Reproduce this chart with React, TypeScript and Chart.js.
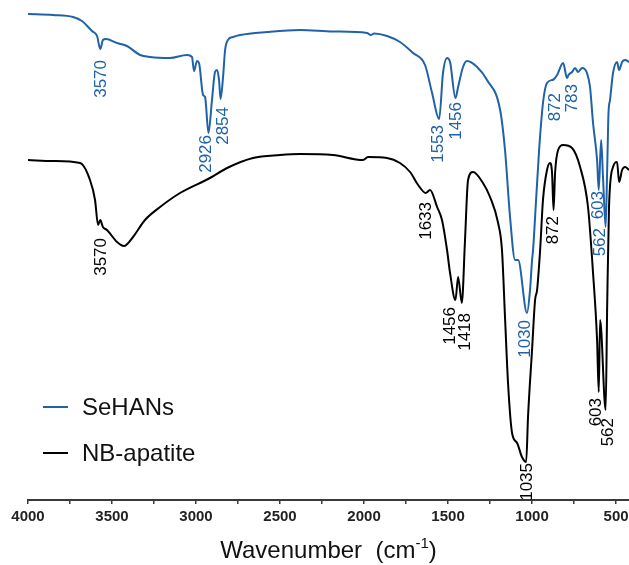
import React, { useEffect, useRef } from "react";
import { Chart, registerables } from "chart.js";
Chart.register(...registerables);

// ---------- data ----------
const SERIES_NAMES = ["SeHANs", "NB-apatite"];
const SERIES_COLORS = ["#1f62a8", "#000000"];

const SEHANS_WAVENUMBER = [
  4000, 3851, 3732, 3679, 3619, 3589, 3570, 3554, 3536, 3470, 3411, 3333, 3274, 3155, 3054, 3024, 3012, 2994, 2982,
  2958, 2946, 2926, 2905, 2887, 2875, 2863, 2854, 2839, 2827, 2810, 2780, 2738, 2577, 2381, 2185, 1982, 1960, 1940,
  1863, 1786, 1708, 1637, 1595, 1553, 1530, 1506, 1488, 1456, 1440, 1411, 1387, 1327, 1268, 1190, 1161, 1131, 1101,
  1083, 1030, 1012, 1000, 994, 976, 958, 935, 911, 872, 851, 815, 792, 783, 762, 744, 726, 702, 673, 655, 637, 613,
  603, 589, 577, 562, 553, 545, 536, 518, 494, 482, 464, 446, 423,
];
const SEHANS_VALUE = [
  97.2, 97.0, 96.6, 95.8, 93.8, 92.8, 90.2, 92.0, 92.2, 91.4, 90.8, 89.0, 88.6, 88.4, 89.0, 88.6, 85.8, 87.8, 87.4,
  81.0, 80.6, 73.4, 80.0, 85.6, 86.0, 84.0, 80.2, 84.6, 90.0, 92.0, 92.6, 93.0, 93.6, 94.0, 93.7, 93.4, 93.0, 93.3,
  92.8, 91.6, 89.4, 87.0, 81.4, 76.2, 85.4, 88.4, 87.6, 80.4, 82.6, 86.6, 87.8, 86.6, 84.0, 78.0, 70.0, 56.6, 48.0,
  48.0, 37.4, 42.0, 48.0, 50.0, 60.0, 70.0, 79.4, 83.4, 84.1, 85.0, 87.4, 84.4, 85.0, 85.6, 86.4, 85.6, 86.4, 85.4,
  82.6, 75.4, 68.0, 62.0, 72.0, 64.0, 54.6, 66.0, 77.4, 80.0, 85.4, 87.6, 86.0, 87.6, 88.0, 87.6,
];

const NB_WAVENUMBER = [
  4000, 3851, 3690, 3631, 3601, 3583, 3570, 3554, 3530, 3470, 3429, 3375, 3304, 3214, 3095, 2917, 2815, 2661, 2500,
  2381, 2185, 2006, 1976, 1863, 1786, 1726, 1678, 1633, 1607, 1565, 1536, 1506, 1488, 1456, 1440, 1418, 1399, 1381,
  1351, 1292, 1250, 1202, 1179, 1161, 1143, 1119, 1089, 1060, 1035, 1024, 1000, 982, 970, 952, 935, 911, 893, 881,
  872, 863, 845, 815, 762, 714, 667, 637, 613, 603, 595, 562, 553, 542, 518, 494, 482, 464, 446, 423,
];
const NB_VALUE = [
  68.0, 67.8, 67.4, 64.0, 60.0, 55.0, 56.0, 54.6, 54.0, 51.6, 50.8, 52.6, 56.0, 58.6, 61.4, 64.4, 66.4, 68.4, 69.0,
  69.2, 69.0, 68.0, 68.6, 68.4, 67.4, 65.6, 63.0, 61.4, 62.0, 58.6, 56.0, 50.0, 45.4, 40.0, 44.6, 39.4, 52.0, 64.0,
  65.6, 63.4, 60.6, 55.4, 50.0, 36.6, 23.4, 13.4, 11.4, 8.6, 7.6, 16.6, 30.0, 40.0, 42.0, 50.0, 60.0, 66.0, 67.4, 65.4,
  58.0, 65.4, 70.0, 71.0, 70.4, 66.6, 58.6, 45.4, 32.0, 21.6, 36.0, 18.0, 38.6, 58.6, 66.6, 67.6, 63.6, 66.0, 66.6, 66.0,
];

const SEHANS_PEAKS = [3570, 2926, 2854, 1553, 1456, 872, 783, 603, 562, 1030];
const NB_PEAKS = [3570, 1633, 1456, 1418, 1035, 872, 603, 562];

const X_TICKS = [4000, 3750, 3500, 3250, 3000, 2750, 2500, 2250, 2000, 1750, 1500, 1250, 1000, 750, 500];
const X_TITLE = "Wavenumber";
const X_UNIT = "cm";
const X_UNIT_EXP = "-1";

// ---------- layout (pixel offsets of peak labels from the curve) ----------
const SEHANS_LABEL_OFFSETS = [
  [1, 11], [-2, 2], [2.5, 8], [-1, 6], [0.5, 4], [1.5, 13.5], [3.5, 9], [0, 1], [-5.5, 1], [-1.5, 7],
];
const NB_LABEL_OFFSETS = [[1, 18], [1, 9], [-5, 7], [3, 10], [1, 1], [-0.5, 6], [-2, 6], [2.5, 8]];

const FONT = "'Liberation Sans', Arial, Helvetica, sans-serif";

function valueAt(ws: number[], vs: number[], w: number): number {
  for (let i = 0; i < ws.length - 1; i++) {
    if (ws[i] >= w && w >= ws[i + 1]) {
      const t = ws[i] === ws[i + 1] ? 0 : (ws[i] - w) / (ws[i] - ws[i + 1]);
      return vs[i] + (vs[i + 1] - vs[i]) * t;
    }
  }
  return vs[vs.length - 1];
}

const overlayPlugin = {
  id: "overlay",
  afterDraw(chart: any) {
    const ctx = chart.ctx as CanvasRenderingContext2D;
    const xs = chart.scales.x;
    const ys = chart.scales.y;
    const area = chart.chartArea;

    // peak labels
    const groups = [
      { ws: SEHANS_WAVENUMBER, vs: SEHANS_VALUE, peaks: SEHANS_PEAKS, offs: SEHANS_LABEL_OFFSETS, color: SERIES_COLORS[0] },
      { ws: NB_WAVENUMBER, vs: NB_VALUE, peaks: NB_PEAKS, offs: NB_LABEL_OFFSETS, color: SERIES_COLORS[1] },
    ];
    ctx.save();
    ctx.font = `17px ${FONT}`;
    ctx.textBaseline = "middle";
    ctx.textAlign = "right";
    for (const g of groups) {
      ctx.fillStyle = g.color;
      g.peaks.forEach((p, i) => {
        const [dx, dy] = g.offs[i];
        const x = xs.getPixelForValue(p) + dx;
        const y = ys.getPixelForValue(valueAt(g.ws, g.vs, p)) + dy;
        ctx.save();
        ctx.translate(x, y);
        ctx.rotate(-Math.PI / 2);
        ctx.fillText(String(p), 0, 0);
        ctx.restore();
      });
    }
    ctx.restore();

    // legend
    ctx.save();
    ctx.font = `24px ${FONT}`;
    ctx.textBaseline = "middle";
    ctx.textAlign = "left";
    chart.data.datasets.forEach((ds: any, i: number) => {
      const y = 407 + i * 46;
      ctx.strokeStyle = ds.borderColor;
      ctx.lineWidth = 2;
      ctx.beginPath();
      ctx.moveTo(43, y);
      ctx.lineTo(68, y);
      ctx.stroke();
      ctx.fillStyle = "#111";
      ctx.fillText(ds.label, 82, y + 1);
    });
    ctx.restore();

    // x axis title with superscript
    ctx.save();
    ctx.fillStyle = "#111";
    ctx.textBaseline = "alphabetic";
    ctx.textAlign = "left";
    const main = `${X_TITLE}  (${X_UNIT}`;
    ctx.font = `24px ${FONT}`;
    const wMain = ctx.measureText(main).width;
    const wClose = ctx.measureText(")").width;
    ctx.font = `15px ${FONT}`;
    const wExp = ctx.measureText(X_UNIT_EXP).width;
    const total = wMain + wExp + wClose;
    const cx = (area.left + area.right) / 2;
    let x = cx - total / 2;
    const base = 558;
    ctx.font = `24px ${FONT}`;
    ctx.fillText(main, x, base);
    x += wMain;
    ctx.font = `15px ${FONT}`;
    ctx.fillText(X_UNIT_EXP, x, base - 10);
    x += wExp;
    ctx.font = `24px ${FONT}`;
    ctx.fillText(")", x, base);
    ctx.restore();
  },
};

export default function App() {
  const ref = useRef<HTMLCanvasElement | null>(null);
  useEffect(() => {
    if (!ref.current) return;
    Chart.defaults.font.family = FONT;
    const chart = new Chart(ref.current, {
      type: "line",
      data: {
        datasets: [
          {
            label: SERIES_NAMES[0],
            data: SEHANS_WAVENUMBER.map((w, i) => ({ x: w, y: SEHANS_VALUE[i] })),
            borderColor: SERIES_COLORS[0],
            borderWidth: 2,
            pointRadius: 0,
            cubicInterpolationMode: "monotone",
            fill: false,
          },
          {
            label: SERIES_NAMES[1],
            data: NB_WAVENUMBER.map((w, i) => ({ x: w, y: NB_VALUE[i] })),
            borderColor: SERIES_COLORS[1],
            borderWidth: 2,
            pointRadius: 0,
            cubicInterpolationMode: "monotone",
            fill: false,
          },
        ],
      },
      options: {
        responsive: false,
        animation: false,
        devicePixelRatio: 1,
        layout: { padding: { left: 28, right: 0, top: 0, bottom: 0 } },
        plugins: { legend: { display: false }, tooltip: { enabled: false }, title: { display: false } },
        scales: {
          x: {
            type: "linear",
            reverse: true,
            min: 423,
            max: 4000,
            afterBuildTicks: (scale: any) => {
              scale.ticks = X_TICKS.map((v) => ({ value: v }));
            },
            afterFit: (scale: any) => {
              scale.paddingLeft = 0;
              scale.paddingRight = 0;
              scale.height = 65;
            },
            ticks: {
              autoSkip: false,
              maxRotation: 0,
              padding: 4,
              color: "#222",
              font: { size: 15, weight: "bold", family: FONT },
              callback: (v: any) => (Number(v) % 500 === 0 ? String(v) : ""),
            },
            grid: {
              display: true,
              drawOnChartArea: false,
              drawTicks: true,
              tickLength: 4,
              color: "#3a3a3a",
              lineWidth: 1.5,
            },
            border: { display: true, color: "#3a3a3a", width: 2 },
          },
          y: { type: "linear", display: false, min: 0, max: 100 },
        },
      },
      plugins: [overlayPlugin],
    } as any);
    return () => chart.destroy();
  }, []);
  return (
    <div style={{ position: "absolute", left: 0, top: 0, width: 629, height: 565, background: "#fff" }}>
      <canvas ref={ref} width={629} height={565} style={{ display: "block" }} />
    </div>
  );
}
